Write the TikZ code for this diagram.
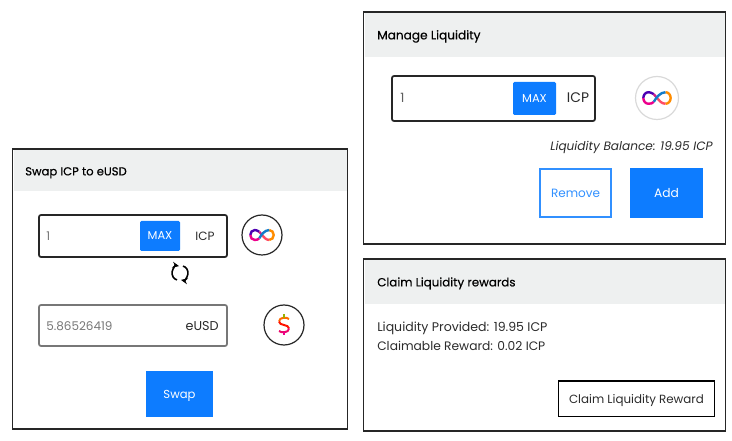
\documentclass[tikz,border=0pt]{standalone}
\usepackage{fontspec}
\setmainfont{Poppins}
\newfontfamily\titlefont[FakeBold=0.35]{Poppins}
\usetikzlibrary{positioning, calc, arrows.meta}

\definecolor{btnblue}{HTML}{0D7CFF}
\definecolor{headgray}{HTML}{EEF0F0}
\definecolor{txtdark}{HTML}{2B2B2B}
\definecolor{fieldgray}{HTML}{777777}

\tikzset{
 size/.style 2 args={minimum width=#1*0.75pt, minimum height=#2*0.75pt, inner sep=0pt, outer sep=0pt},
 fs/.style={font=\fontsize{#1}{11}\selectfont, text height=7.2pt, text depth=0pt},
 label text/.style={fs=#1, text=txtdark, inner sep=0pt},
 title text/.style={font=\titlefont\fontsize{#1}{11}\selectfont, text height=6.6pt, text depth=0pt, text=black, inner sep=0pt, anchor=west},
 panel/.style={draw=black!85, line width=1.1pt, anchor=north west},
 header/.style={fill=headgray, anchor=north west},
 field/.style={draw=black!85, line width=1.3pt, rounded corners=1.5pt, anchor=north west},
 maxbtn/.style={fill=btnblue, rounded corners=1pt, text=white, fs=8.6, text height=6pt},
 solidbtn/.style={fill=btnblue, anchor=north west, text=white, fs=#1},
 coin/.style={circle, draw=black!85, line width=0.9pt, inner sep=0pt},
 infty/.pic={
  \draw[line width=1.8pt, color=orange!90!yellow] (8,-5.5) .. controls (11,-5.5) and (13,-3) .. (13,0) .. controls (13,3) and (11,5.5) .. (8,5.5);
  \draw[line width=1.8pt, color=violet!60!blue] (-3,-3.6) .. controls (-5,-5) and (-7,-5.5) .. (-8,-5.5) .. controls (-11,-5.5) and (-13,-3) .. (-13,0);
  \draw[line width=1.8pt, color=magenta] (-13,0) .. controls (-13,3) and (-11,5.5) .. (-8,5.5) .. controls (-6,5.5) and (-4,5) .. (-3,3.6);
  \draw[line width=1.8pt, color=orange!60!magenta] (8,5.5) .. controls (4,5.5) and (2,2) .. (0,0);
  \draw[line width=1.8pt, color=magenta!70!violet] (0,0) .. controls (-1,-1) and (-2,-2.6) .. (-3,-3.6);
  \draw[line width=1.8pt, color=cyan!60!blue] (-3,3.6) .. controls (-1,0) and (3,-5.5) .. (8,-5.5);
 },
}

\begin{document}
\begin{tikzpicture}[x=0.75pt, y=-0.75pt]
 \useasboundingbox (0,0) rectangle (732,441);

 % swap panel
 \node[panel, size={335}{280}] (swap) at (12.5,149) {};
 \node[header, size={333}{41}] (swaphead) at (14,150) {};
 \node[title text=8.7] (swaptitle) at (25,171) {Swap ICP to eUSD};
 \node[field, size={188}{42}] (icpfield) at (39,215) {};
 \node[label text=9, anchor=west, text=fieldgray] (icpval) at (46,236) {1};
 \node[maxbtn, size={40}{30}] (icpmax) at (160,236) {MAX};
 \node[label text=9] (icpunit) at (205,236) {ICP};
 \node[coin, size={40}{40}] (icpcoin) at (262,235) {};
 \pic[scale=0.9] at (icpcoin.center) {infty};
 \node[field, draw=fieldgray, size={188}{41}] (usdfield) at (39,305) {};
 \node[label text=9, anchor=west, text=fieldgray] (usdval) at (46,326) {5.86526419};
 \node[label text=9.6, anchor=east] (usdunit) at (219,326) {eUSD};
 \node[coin, size={40}{40}] (usdcoin) at (284,325) {};
 \draw[line width=1.5pt, orange!85!red] ($(usdcoin)+(5,-6)$) .. controls ($(usdcoin)+(3,-8)$) and ($(usdcoin)+(-5,-8)$) .. ($(usdcoin)+(-5,-3.5)$);
 \draw[line width=1.5pt, red!85!orange] ($(usdcoin)+(-5,-3.5)$) .. controls ($(usdcoin)+(-5,1)$) and ($(usdcoin)+(5,-1)$) .. ($(usdcoin)+(5,3.5)$);
 \draw[line width=1.5pt, magenta!70!red] ($(usdcoin)+(5,3.5)$) .. controls ($(usdcoin)+(5,8)$) and ($(usdcoin)+(-3,8)$) .. ($(usdcoin)+(-5,6)$);
 \draw[line width=1.5pt, green!40!orange] ($(usdcoin)+(0,-10.5)$) -- ($(usdcoin)+(0,-7)$);
 \draw[line width=1.5pt, magenta] ($(usdcoin)+(0,7)$) -- ($(usdcoin)+(0,10.5)$);
 \coordinate (swapicon) at (180,273);
 \draw[line width=1.2pt, -{Stealth[length=5pt, width=4.5pt]}] ($(swapicon)+(-3,6.9)$) arc[start angle=100, end angle=280, x radius=6, y radius=7];
 \draw[line width=1.2pt, -{Stealth[length=5pt, width=4.5pt]}] ($(swapicon)+(3,-6.9)$) arc[start angle=-80, end angle=100, x radius=6, y radius=7];
 \node[solidbtn=8.7, size={67}{46}] (swapbtn) at (146,371) {Swap};

 % liquidity panel
 \node[panel, size={362}{232}] (manage) at (363.5,12) {};
 \node[header, size={360}{44}] (managehead) at (365,13) {};
 \node[title text=9.1] (managetitle) at (377,35) {Manage Liquidity};
 \node[field, size={203}{45}] (liqfield) at (392,76) {};
 \node[label text=9.6, anchor=west, text=fieldgray!80!black] (liqval) at (400,98) {1};
 \node[maxbtn, size={43}{33}] (liqmax) at (534.5,98.5) {MAX};
 \node[label text=10.4] (liqunit) at (578,98) {ICP};
 \node[coin, draw=black!15, size={43}{43}] (liqcoin) at (657,98) {};
 \pic[scale=1.05] at (liqcoin.center) {infty};
 \node[label text=9.1, anchor=east, font=\fontsize{9.1}{11}\selectfont\itshape] (liqbal) at (713,146) {Liquidity Balance: 19.95 ICP};
 \node[draw=btnblue!85!white, line width=1.3pt, anchor=north west, size={71}{48}, text=btnblue!85!white, fs=9] (removebtn) at (540,169) {Remove};
 \node[solidbtn=9.2, size={73}{50}] (addbtn) at (630,168) {Add};

 % rewards panel
 \node[panel, size={362}{172}] (claim) at (363.5,259) {};
 \node[header, size={360}{44}] (claimhead) at (365,260) {};
 \node[title text=8.9] (claimtitle) at (377,282) {Claim Liquidity rewards};
 \node[label text=9.4, anchor=west] (provided) at (377,327) {Liquidity Provided: 19.95 ICP};
 \node[label text=9.2, anchor=west] (reward) at (377,346) {Claimable Reward: 0.02 ICP};
 \node[draw=black, line width=1.1pt, anchor=north west, size={156}{35.5}, label text=8.9] (claimbtn) at (558.5,381) {Claim Liquidity Reward};
\end{tikzpicture}
\end{document}
